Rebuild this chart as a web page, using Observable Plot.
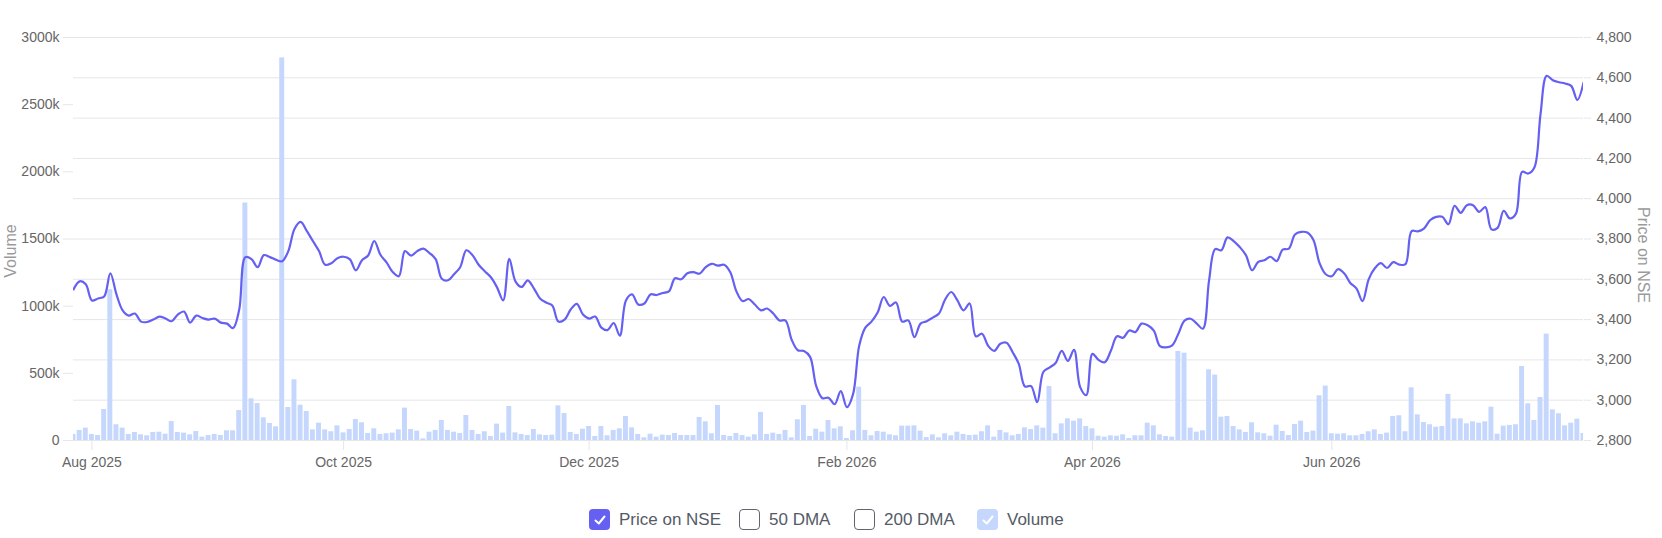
<!DOCTYPE html>
<html>
<head>
<meta charset="utf-8">
<script src="https://cdn.jsdelivr.net/npm/d3@7"></script>
<script src="https://cdn.jsdelivr.net/npm/@observablehq/plot@0.6"></script>
<style>
  body { margin: 0; background: #fff; font-family: "Liberation Sans", Arial, sans-serif; }
  #chart { width: 1662px; height: 480px; }
  .legend { position: relative; width: 1662px; height: 21px; margin-top: 29px;
            font-size: 17px; color: #555b66; font-family: "Liberation Sans", Arial, sans-serif; }
  .item { position: absolute; top: 0; display: flex; align-items: center; height: 21px; white-space: nowrap; }
  .box { width: 21px; height: 21px; box-sizing: border-box; border-radius: 4px; margin-right: 9px; display: flex; align-items: center; justify-content: center; }
  .box.price { background: #6560f2; }
  .box.vol { background: #c5d7fc; }
  .box.empty { border: 1.5px solid #5f6670; background: #fff; }
</style>
</head>
<body>
<div id="chart"></div>
<div class="legend" id="legend"></div>
<script>
// Volume per trading day (thousands of shares)
const volume = [
  45, 75, 92, 45, 37, 231, 1122, 117, 92, 45, 60, 42, 35, 60, 62, 47, 141, 60, 55, 42,
  67, 25, 37, 45, 37, 72, 72, 223, 1768, 310, 275, 169, 127, 102, 2848, 246, 452, 263, 216, 79,
  129, 79, 65, 109, 57, 82, 156, 132, 52, 87, 45, 50, 55, 79, 241, 82, 70, 12, 62, 75,
  149, 75, 62, 52, 186, 75, 45, 65, 30, 122, 55, 253, 57, 45, 37, 82, 42, 37, 40, 258,
  201, 60, 45, 84, 104, 30, 104, 35, 75, 87, 179, 94, 45, 20, 47, 25, 40, 37, 52, 37,
  37, 37, 171, 139, 50, 261, 37, 30, 52, 37, 25, 42, 209, 45, 55, 45, 75, 20, 154, 261,
  30, 84, 62, 149, 87, 102, 15, 72, 397, 75, 35, 67, 62, 42, 35, 107, 107, 109, 70, 22,
  42, 20, 50, 35, 62, 45, 37, 40, 65, 109, 25, 75, 57, 35, 45, 94, 82, 109, 92, 402,
  50, 124, 161, 144, 161, 104, 87, 32, 25, 35, 32, 42, 15, 35, 35, 129, 109, 42, 30, 25,
  663, 650, 92, 62, 72, 526, 487, 174, 179, 104, 79, 60, 132, 57, 50, 32, 114, 67, 37, 119,
  144, 60, 70, 333, 405, 50, 47, 50, 35, 35, 45, 65, 79, 45, 55, 179, 184, 65, 392, 191,
  134, 117, 99, 104, 343, 161, 161, 124, 139, 129, 139, 248, 47, 107, 112, 117, 551, 273, 149, 320,
  792, 228, 199, 109, 129, 159, 52
];

// Price on NSE per trading day
const price = [
  3550, 3590, 3575, 3495, 3505, 3515, 3630, 3525, 3446, 3420, 3430, 3390, 3388, 3400, 3415, 3405, 3392, 3425, 3440, 3385,
  3420, 3408, 3400, 3405, 3385, 3380, 3358, 3450, 3710, 3700, 3660, 3720, 3710, 3697, 3690, 3740, 3850, 3885, 3840, 3790,
  3740, 3672, 3680, 3705, 3712, 3700, 3644, 3695, 3718, 3790, 3722, 3684, 3636, 3615, 3740, 3717, 3740, 3752, 3730, 3700,
  3603, 3595, 3625, 3660, 3744, 3720, 3672, 3640, 3610, 3560, 3495, 3702, 3590, 3562, 3595, 3555, 3505, 3485, 3470, 3390,
  3400, 3450, 3478, 3425, 3405, 3415, 3360, 3348, 3383, 3320, 3495, 3525, 3475, 3480, 3525, 3522, 3532, 3540, 3605, 3600,
  3630, 3636, 3628, 3661, 3677, 3668, 3672, 3635, 3540, 3492, 3502, 3475, 3446, 3455, 3430, 3396, 3395, 3300, 3248, 3244,
  3215, 3070, 3010, 3012, 2980, 3045, 2965, 3030, 3270, 3360, 3390, 3435, 3512, 3468, 3485, 3390, 3396, 3313, 3380, 3392,
  3410, 3430, 3500, 3537, 3495, 3446, 3480, 3317, 3330, 3270, 3245, 3280, 3285, 3238, 3180, 3068, 3070, 2990, 3140, 3162,
  3185, 3245, 3195, 3250, 3065, 3025, 3230, 3200, 3188, 3245, 3317, 3310, 3346, 3338, 3380, 3372, 3345, 3268, 3262, 3272,
  3330, 3395, 3404, 3380, 3355, 3595, 3750, 3744, 3808, 3790, 3760, 3720, 3645, 3686, 3694, 3712, 3690, 3747, 3752, 3822,
  3835, 3832, 3795, 3680, 3625, 3615, 3650, 3630, 3582, 3555, 3492, 3600, 3655, 3680, 3656, 3685, 3673, 3675, 3839, 3838,
  3852, 3893, 3910, 3910, 3873, 3965, 3930, 3968, 3968, 3935, 3958, 3848, 3855, 3940, 3902, 3926, 4133, 4125, 4155, 4420,
  4610, 4588, 4578, 4572, 4560, 4490, 4575
];

// X tick positions (trading-day index of first session of month) and labels
const monthTickIndex = [3, 44, 84, 126, 166, 205];
const monthTickLabels = ["Aug 2025", "Oct 2025", "Dec 2025", "Feb 2026", "Apr 2026", "Jun 2026"];

const volumeTicks = [0, 500, 1000, 1500, 2000, 2500, 3000];
const priceTicks = [2800, 3000, 3200, 3400, 3600, 3800, 4000, 4200, 4400, 4600, 4800];
const volDomain = [0, 3000];
const priceDomain = [2800, 4800];

const legendItems = [
  {label: "Price on NSE", kind: "price"},
  {label: "50 DMA", kind: "empty"},
  {label: "200 DMA", kind: "empty"},
  {label: "Volume", kind: "vol"}
];
const legendLeft = [589, 739, 854, 977];

// map price onto the volume (left) scale so both share one y scale
const toVol = p => (p - priceDomain[0]) / (priceDomain[1] - priceDomain[0]) * (volDomain[1] - volDomain[0]) + volDomain[0];
const fromVol = v => Math.round(priceDomain[0] + (v - volDomain[0]) / (volDomain[1] - volDomain[0]) * (priceDomain[1] - priceDomain[0]));

const data = volume.map((v, i) => ({i, v, p: price[i]}));
const fmtComma = d3.format(",");
const gridColor = "#e6e6e6";
const tickText = "#666666";

const chart = Plot.plot({
  width: 1662,
  height: 480,
  marginLeft: 73,
  marginRight: 79,
  marginTop: 37,
  marginBottom: 40,
  style: {fontFamily: "'Liberation Sans', Arial, sans-serif", fontSize: "14px", background: "transparent", color: tickText},
  x: {type: "linear", domain: [0, volume.length - 1]},
  y: {domain: volDomain},
  marks: [
    Plot.ruleY(priceTicks.map(toVol), {stroke: gridColor, strokeWidth: 1}),
    Plot.rectY(data, {x1: d => d.i - 0.5, x2: d => d.i + 0.5, y: "v", fill: "#c5d7fc", insetLeft: 0.6, insetRight: 0.6, clip: true}),
    Plot.line(data, {x: "i", y: d => toVol(d.p), stroke: "#6560f2", strokeWidth: 2.2, curve: "catmull-rom", clip: true}),
    Plot.axisY({anchor: "left", ticks: volumeTicks, tickFormat: d => d === 0 ? "0" : d + "k",
      tickSize: 10, tickPadding: 4, stroke: gridColor, fill: tickText, label: null}),
    Plot.axisY({anchor: "right", ticks: priceTicks.map(toVol), tickFormat: v => fmtComma(fromVol(v)),
      tickSize: 7, tickPadding: 6, stroke: gridColor, fill: tickText, label: null}),
    Plot.axisX({ticks: monthTickIndex, tickFormat: d => monthTickLabels[monthTickIndex.indexOf(d)],
      tickSize: 10, tickPadding: 7, stroke: gridColor, fill: tickText, label: null}),
    Plot.text(["Volume"], {frameAnchor: "left", textAnchor: "middle", dx: -63, dy: 12, rotate: -90, fontSize: 16, fill: "#9a9a9a"}),
    Plot.text(["Price on NSE"], {frameAnchor: "right", textAnchor: "middle", dx: 60, dy: 16, rotate: 90, fontSize: 16, fill: "#9a9a9a"})
  ]
});
document.getElementById("chart").appendChild(chart);

const check = '<svg width="14" height="14" viewBox="0 0 14 14"><path d="M2.5 7.5 L5.8 10.5 L11.5 3.5" fill="none" stroke="#fff" stroke-width="2" stroke-linecap="round" stroke-linejoin="round"/></svg>';
const legend = document.getElementById("legend");
legendItems.forEach((it, k) => {
  const item = document.createElement("div");
  item.className = "item";
  item.style.left = legendLeft[k] + "px";
  const box = document.createElement("span");
  box.className = "box " + it.kind;
  if (it.kind !== "empty") box.innerHTML = check;
  const txt = document.createElement("span");
  txt.textContent = it.label;
  item.appendChild(box);
  item.appendChild(txt);
  legend.appendChild(item);
});
</script>
</body>
</html>
